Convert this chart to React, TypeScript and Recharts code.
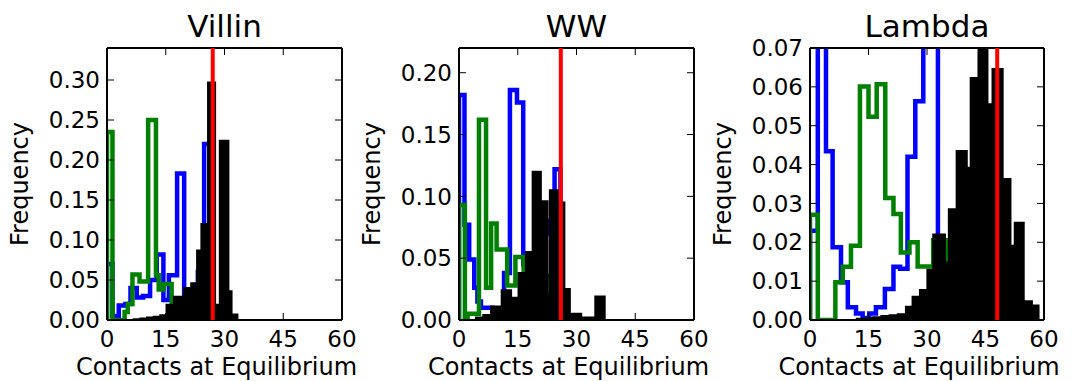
import { ComposedChart, Line, Area, XAxis, YAxis, ReferenceLine } from "recharts";

// histograms: bin edges + frequency of each bin
const villinBlackEdges = [6.8, 8.5, 10.2, 11.9, 13.6, 15.2, 17.1, 19.6, 21.5, 23.0, 24.1, 25.8, 27.6, 28.8, 31.0, 31.8, 33.3];
const villinBlackFreq = [0.001, 0.002, 0.003, 0.004, 0.006, 0.019, 0.029, 0.04, 0.046, 0.087, 0.12, 0.297, 0.019, 0.224, 0.036, 0.007];
const villinBlueEdges = [0, 1.4, 3.0, 4.7, 6.0, 7.6, 9.2, 11.0, 12.7, 14.4, 15.8, 17.9, 19.7, 21.5, 23.2, 24.8, 26.5, 28.0];
const villinBlueFreq = [0.07, 0.005, 0.018, 0.02, 0.04, 0.028, 0.03, 0.05, 0.082, 0.025, 0.056, 0.183, 0.025, 0.035, 0.06, 0.22, 0.015];
const villinGreenEdges = [0, 1.4, 4.5, 5.3, 6.5, 8.3, 10.5, 12.5, 13.2, 14.4, 16.5];
const villinGreenFreq = [0.235, 0, 0.01, 0.02, 0.057, 0.048, 0.25, 0.056, 0.038, 0.045];
const villinNative = 27;

const wwBlackEdges = [4.3, 6.2, 8.2, 10.9, 13.3, 15.2, 17.1, 18.8, 20.9, 22.6, 23.2, 25.2, 26.9, 28.3, 31.2, 34.8, 37.2];
const wwBlackFreq = [0.002, 0.004, 0.011, 0.024, 0.018, 0.038, 0.055, 0.12, 0.096, 0.02, 0.105, 0.095, 0.025, 0.005, 0.002, 0.019];
const wwBlueEdges = [0, 1.4, 2.6, 3.9, 4.7, 5.6, 8.5, 11.5, 13.0, 14.8, 16.4, 18.0, 19.8, 21.5, 23.2, 24.4, 25.9];
const wwBlueFreq = [0.182, 0.077, 0.049, 0.026, 0.015, 0.01, 0.008, 0.038, 0.186, 0.176, 0.045, 0.05, 0.06, 0.07, 0.08, 0.122];
const wwGreenEdges = [0, 1.5, 2.2, 5.1, 6.9, 8.2, 9.6, 12.3, 14.4, 16.5, 18.5, 20.5, 23.2, 25.0];
const wwGreenFreq = [0.093, 0, 0.005, 0.162, 0.026, 0.078, 0.057, 0.028, 0.051, 0.03, 0.035, 0.036, 0.01];
const wwNative = 26;

const lambdaBlackEdges = [12, 14.1, 16.2, 18.3, 20.4, 22.5, 24.6, 26.3, 28.2, 30.1, 31.6, 34.6, 35.6, 37.6, 40.2, 41.2, 43.2, 45.5, 46.8, 49.4, 51.4, 52.5, 54.8, 56.9, 58.6];
const lambdaBlackFreq = [0.0003, 0.0005, 0.0007, 0.001, 0.0012, 0.0015, 0.0034, 0.006, 0.0077, 0.0129, 0.022, 0.0148, 0.0285, 0.0435, 0.0392, 0.0623, 0.075, 0.0555, 0.0646, 0.0363, 0.0191, 0.025, 0.0048, 0.0037];
const lambdaBlueEdges = [0, 2.0, 4.1, 5.8, 7.95, 9.7, 11.8, 13.5, 15.2, 16.9, 19.2, 21.4, 23.1, 25.0, 27.0, 29.05, 31.0, 32.8, 35.1];
const lambdaBlueFreq = [0.023, 0.15, 0.0434, 0.0187, 0.0097, 0.0033, 0.0017, 0.0005, 0.0017, 0.0033, 0.008, 0.0137, 0.0132, 0.042, 0.0563, 0.09, 0.085, 0.015];
const lambdaGreenEdges = [0, 2.0, 6.5, 8.4, 10.5, 12.8, 15.0, 17.1, 19.3, 21.4, 23.3, 25.5, 27.6, 31.6, 35.3, 37.3, 39.3];
const lambdaGreenFreq = [0.0271, 0, 0.0097, 0.0137, 0.0191, 0.0601, 0.0523, 0.0607, 0.0314, 0.0273, 0.0174, 0.02, 0.0138, 0.0205, 0.01, 0.004];
const lambdaNative = 48;

const xTicks = [0, 15, 30, 45, 60];
const villinTicks = [0, 0.05, 0.1, 0.15, 0.2, 0.25, 0.3];
const wwTicks = [0, 0.05, 0.1, 0.15, 0.2];
const lambdaTicks = [0, 0.01, 0.02, 0.03, 0.04, 0.05, 0.06, 0.07];

const FONT = "DejaVu Sans";
const PLOT_TOP = 48;
const PLOT_BOTTOM = 320;
const H = 381;

// outline of a histogram as points for a stepAfter curve
const steps = (edges: number[], freq: number[]) => {
  const pts = [{ x: edges[0], y: 0 }];
  freq.forEach((f, i) => pts.push({ x: edges[i], y: f }));
  pts.push({ x: edges[edges.length - 1], y: 0 });
  return pts;
};

const panels = [
  {
    title: "Villin", plotLeft: 107, plotWidth: 235, yMax: 0.34, yTicks: villinTicks, native: villinNative,
    black: steps(villinBlackEdges, villinBlackFreq), blue: steps(villinBlueEdges, villinBlueFreq), green: steps(villinGreenEdges, villinGreenFreq),
  },
  {
    title: "WW", plotLeft: 459, plotWidth: 235, yMax: 0.22, yTicks: wwTicks, native: wwNative,
    black: steps(wwBlackEdges, wwBlackFreq), blue: steps(wwBlueEdges, wwBlueFreq), green: steps(wwGreenEdges, wwGreenFreq),
  },
  {
    title: "Lambda", plotLeft: 810, plotWidth: 234, yMax: 0.07, yTicks: lambdaTicks, native: lambdaNative,
    black: steps(lambdaBlackEdges, lambdaBlackFreq), blue: steps(lambdaBlueEdges, lambdaBlueFreq), green: steps(lambdaGreenEdges, lambdaGreenFreq),
  },
];

const tickFont = { fill: "#000", fontSize: 23, fontFamily: FONT };
const axisLine = { stroke: "#000", strokeWidth: 2 };
const tickLine = { stroke: "#000", strokeWidth: 1 };

const Panel = ({ p }: { p: (typeof panels)[number] }) => {
  const width = 70 + p.plotWidth + 25;
  return (
    <div style={{ position: "absolute", left: p.plotLeft - 70, top: 0 }}>
      <ComposedChart width={width} height={H} margin={{ top: PLOT_TOP - 1, right: 24, bottom: H - PLOT_BOTTOM - 30, left: 10 }}>
        <XAxis
          dataKey="x" type="number" domain={[0, 60]} ticks={xTicks} interval={0} height={30}
          allowDataOverflow axisLine={axisLine} tickLine={tickLine} tickSize={-7} tickMargin={18} tick={tickFont}
        />
        <XAxis
          xAxisId="top" orientation="top" dataKey="x" type="number" domain={[0, 60]} ticks={xTicks} interval={0} height={1}
          axisLine={axisLine} tickLine={tickLine} tickSize={-7} tickFormatter={() => ""}
        />
        <YAxis
          type="number" domain={[0, p.yMax]} ticks={p.yTicks} interval={0} width={60} allowDataOverflow
          axisLine={axisLine} tickLine={tickLine} tickSize={-7} tickMargin={14} tick={tickFont}
          tickFormatter={(v: number) => v.toFixed(2)}
        />
        <YAxis
          yAxisId="right" orientation="right" type="number" domain={[0, p.yMax]} ticks={p.yTicks} interval={0} width={1}
          allowDataOverflow axisLine={axisLine} tickLine={tickLine} tickSize={-7} tickFormatter={() => ""}
        />
        {/* invisible copy so the top/right frame axes have a series */}
        <Line data={p.black} dataKey="y" xAxisId="top" yAxisId="right" stroke="none" dot={false} isAnimationActive={false} />
        <Line data={p.blue} dataKey="y" type="stepAfter" stroke="#0000ff" strokeWidth={4.5} dot={false} isAnimationActive={false} />
        <Line data={p.green} dataKey="y" type="stepAfter" stroke="#008000" strokeWidth={4.5} dot={false} isAnimationActive={false} />
        <Area
          data={p.black} dataKey="y" type="stepAfter" stroke="#000" strokeWidth={2} fill="#000" fillOpacity={1}
          isAnimationActive={false} zIndex={450}
        />
        <ReferenceLine x={p.native} stroke="#ff0000" strokeWidth={4} zIndex={600} />
      </ComposedChart>
    </div>
  );
};

export default function App() {
  return (
    <div style={{ position: "absolute", left: 0, top: 0, width: 1078, height: H, background: "#fff" }}>
      {panels.map((p) => (
        <Panel key={p.title} p={p} />
      ))}
      <svg width={1078} height={H} style={{ position: "absolute", left: 0, top: 0, pointerEvents: "none" }}>
        {panels.map((p) => {
          const cx = p.plotLeft + p.plotWidth / 2;
          const ly = (PLOT_TOP + PLOT_BOTTOM) / 2;
          const lx = p.plotLeft - 79;
          return (
            <g key={p.title} fontFamily={FONT} fill="#000">
              <text x={cx} y={37} textAnchor="middle" fontSize={31}>{p.title}</text>
              <text x={lx} y={ly} textAnchor="middle" fontSize={24} transform={`rotate(-90 ${lx} ${ly})`}>Frequency</text>
              <text x={cx - 8} y={375} textAnchor="middle" fontSize={24}>Contacts at Equilibrium</text>
            </g>
          );
        })}
      </svg>
    </div>
  );
}
